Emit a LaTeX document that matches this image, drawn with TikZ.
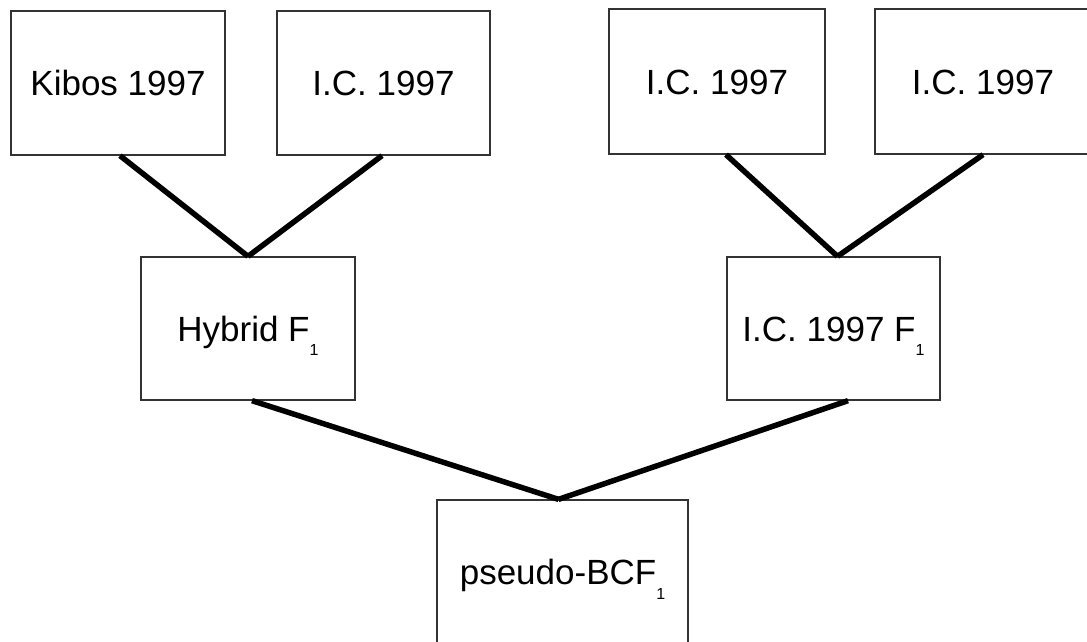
\documentclass[tikz,border=0pt]{standalone}
\usepackage{fontspec}
\setmainfont{Liberation Sans}
\newcommand{\subidx}[1]{\raisebox{-0.42em}{\fontsize{16}{16}\selectfont #1}}
\tikzset{
    cross/.style={draw=black!80, line width=1.3pt, fill=white, inner sep=0pt,
        minimum width=214pt, minimum height=144pt,
        text height=25pt, text depth=0pt, font=\fontsize{35}{40}\selectfont},
    link/.style={line width=5.5pt, black}
}
\begin{document}
\begin{tikzpicture}[x=1pt, y=-1pt]
            \useasboundingbox (0, 0) rectangle (1087, 641);
            \node[cross] (kibos) at (118, 83) {Kibos 1997};
            \node[cross, minimum width=213pt] (icA) at (383.5, 83) {I.C. 1997};
            \node[cross, minimum width=216pt, minimum height=145pt] (icB) at (717, 81.5) {I.C. 1997};
            \node[cross, minimum width=216pt, minimum height=145pt] (icC) at (983, 81.5) {I.C. 1997};
            \node[cross, minimum height=143pt] (hybrid) at (248, 328.5) {Hybrid F\subidx{1}};
            \node[cross, minimum width=213pt, minimum height=143pt] (icF) at (833.5, 328.5) {I.C. 1997 F\subidx{1}};
            \node[cross, minimum width=251pt, minimum height=144pt] (pseudo) at (562.5, 572) {pseudo-BCF\subidx{1}};
            \draw[link] ([xshift=2pt]kibos.south) -- (hybrid.north);
            \draw[link] ([xshift=-1.5pt]icA.south) -- (hybrid.north);
            \draw[link] ([xshift=9pt]icB.south) -- ([xshift=4pt]icF.north);
            \draw[link] (icC.south) -- ([xshift=4pt]icF.north);
            \draw[link] ([xshift=4pt]hybrid.south) -- ([xshift=-4pt]pseudo.north);
            \draw[link] ([xshift=14.5pt]icF.south) -- ([xshift=-4pt]pseudo.north);
        \end{tikzpicture}
\end{document}
